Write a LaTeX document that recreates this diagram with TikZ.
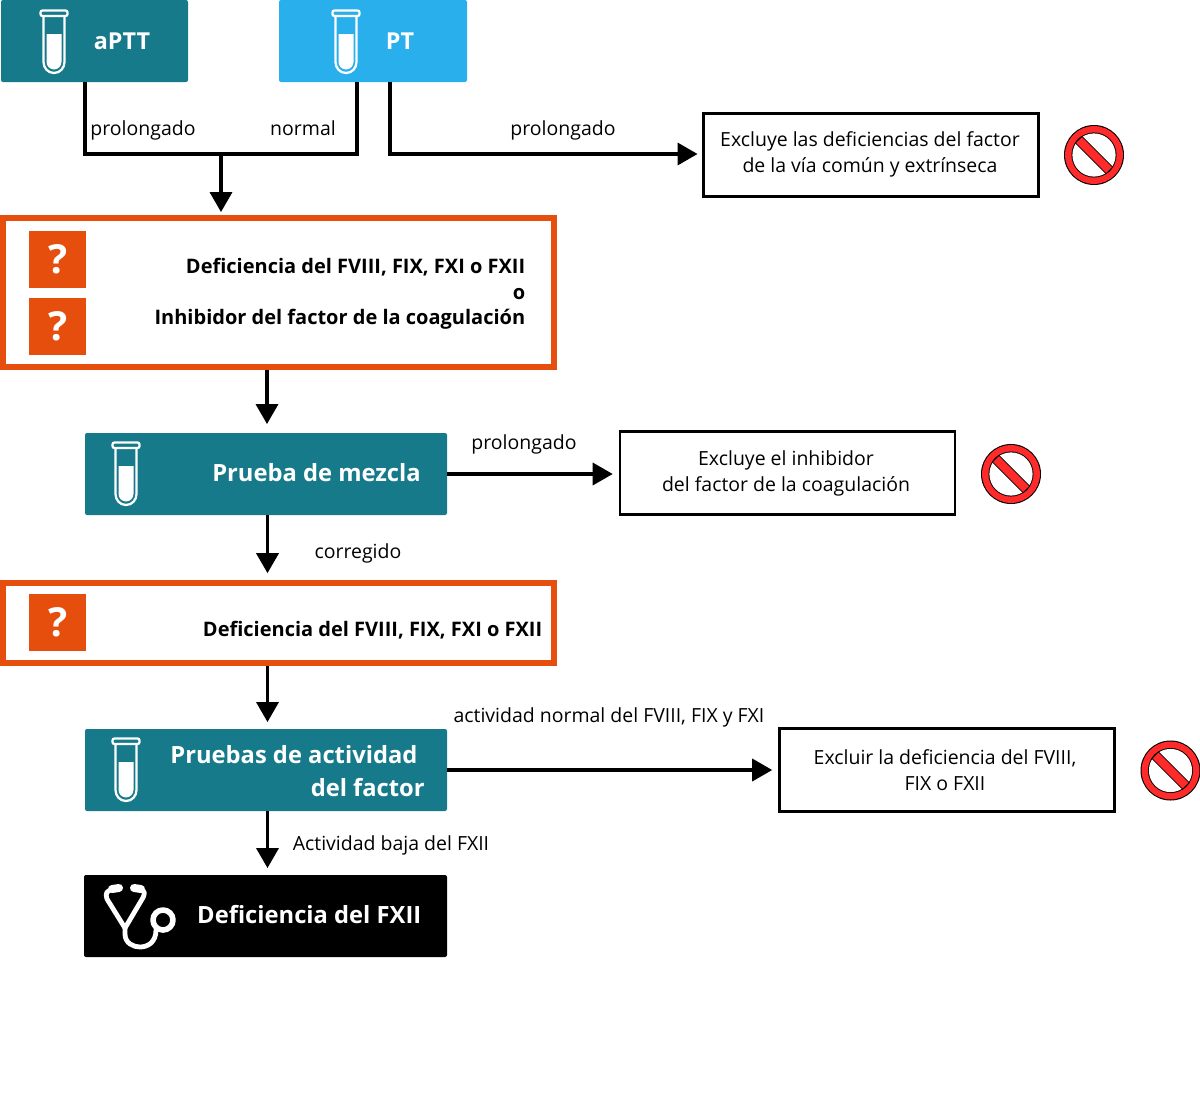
\documentclass[tikz,border=0pt]{standalone}
\usepackage{fontspec}
\setmainfont{Open Sans}
\usetikzlibrary{arrows.meta,calc}
\definecolor{teal1}{HTML}{167A8B}
\definecolor{sky1}{HTML}{29B0EC}
\definecolor{org1}{HTML}{E64E0E}
\definecolor{red1}{HTML}{FF2A2A}
\def\uu{0.75pt}
\tikzset{
  x=0.75pt,y=-0.75pt,
  body/.style={font=\fontsize{14.6}{19.5}\selectfont,inner sep=0pt,align=center,text=black},
  lab/.style={body,anchor=base},
  boldtxt/.style={font=\fontsize{15}{19.2}\selectfont\bfseries,inner sep=0pt,align=right,text=black},
  headtxt/.style={font=\fontsize{17.8}{24.75}\selectfont\bfseries,inner sep=0pt,align=right,text=white},
  filled/.style={rounded corners=1.5pt,inner sep=0pt,draw=none},
  outbox/.style={draw=black,line width=1.9pt,fill=white,inner sep=0pt},
  warnbox/.style={draw=org1,line width=3.9pt,fill=white,inner sep=0pt},
  qbox/.style={fill=org1,text=white,inner sep=0pt,minimum size=57*\uu,font=\fontsize{30}{30}\selectfont\bfseries},
  conn/.style={line width=2.6pt,draw=black},
  arr/.style={conn,-{Triangle[length=15pt,width=16.5pt]}},
  tube/.pic={
    \draw[white,line width=1.7pt,rounded corners=1.5pt] (-13.5,0.5) rectangle (13.5,6);
    \draw[white,line width=1.7pt] (-10.5,6) -- (-10.5,52) .. controls (-10.5,58) and (-6,63) .. (0,63) .. controls (6,63) and (10.5,58) .. (10.5,52) -- (10.5,6);
    \fill[white] (-7.5,24) -- (-7.5,52) .. controls (-7.5,56) and (-4,59.5) .. (0,59.5) .. controls (4,59.5) and (7.5,56) .. (7.5,52) -- (7.5,24) -- cycle;
  },
  nosign/.pic={
    \fill[black] (0,0) circle[radius=22.5pt];
    \fill[red1] (0,0) circle[radius=21.7pt];
    \fill[black] (0,0) circle[radius=16.9pt];
    \fill[white] (0,0) circle[radius=16.2pt];
    \begin{scope}
      \clip (0,0) circle[radius=16.9pt];
      \draw[black,line width=7.6pt] (-20,-20) -- (20,20);
    \end{scope}
    \draw[red1,line width=6.3pt] (-15,-15) -- (15,15);
  },
}
\begin{document}
\begin{tikzpicture}
\useasboundingbox (0,0) rectangle (1200,1093);

% top test boxes
\node[filled,fill=teal1,minimum width=187*\uu,minimum height=82*\uu] (aptt) at (94.5,41) {};
\node[filled,fill=sky1,minimum width=188*\uu,minimum height=82*\uu] (pt) at (373,41) {};
\pic at (54,10) {tube};
\pic at (346,10) {tube};
\node[headtxt,font=\fontsize{17.5}{24}\selectfont\bfseries] (apttt) at (122,41) {aPTT};
\node[headtxt,font=\fontsize{17.5}{24}\selectfont\bfseries] (ptt) at (400,41) {PT};

% warning box 1
\node[warnbox,minimum width=551*\uu,minimum height=149*\uu] (w1) at (278.5,292.5) {};
\node[qbox] (q1) at (57.5,259.5) {\hspace*{1.5pt}?};
\node[qbox] (q2) at (57.5,326.5) {\hspace*{1.5pt}?};
\node[boldtxt,anchor=east] (w1t) at (525.5,294) {Deficiencia del FVIII, FIX, FXI o FXII\\o\\Inhibidor del factor de la coagulación};

% mixing
\node[filled,fill=teal1,minimum width=362*\uu,minimum height=82*\uu] (mix) at (266,474) {};
\pic at (126,442) {tube};
\node[headtxt,anchor=east] (mixt) at (421,473) {Prueba de mezcla};

% warning box 2
\node[warnbox,minimum width=551*\uu,minimum height=80*\uu] (w2) at (278.5,623) {};
\node[qbox] (q3) at (57.5,622.5) {\hspace*{1.5pt}?};
\node[boldtxt,anchor=east] (w2t) at (542.5,630) {Deficiencia del FVIII, FIX, FXI o FXII};

% activity
\node[filled,fill=teal1,minimum width=362*\uu,minimum height=82*\uu] (act) at (266,770) {};
\pic at (126,738) {tube};
\node[headtxt,anchor=east] (actt) at (425,771) {Pruebas de actividad\hspace*{5.5pt}\\del factor};

% diagnosis
\node[filled,fill=black,minimum width=363*\uu,minimum height=82*\uu] (dx) at (265.5,916) {};
\node[headtxt,anchor=east] (dxt) at (421.5,915) {Deficiencia del FXII};
\begin{scope}[white,line cap=round,line join=round,line width=3.6pt]
  \draw (120,888) -- (111,890) .. controls (107,891) and (105,893) .. (107,899) -- (125,928) -- (141,901) .. controls (146,893) and (145,891) .. (141,890) -- (133,888);
  \draw[line width=6pt] (112,889) -- (119,888);
  \draw[line width=6pt] (141,889) -- (134,888);
  \draw (125,928) -- (125,934) .. controls (125,943) and (133,947) .. (140,947) .. controls (148,947) and (156,942) .. (156,930);
  \draw[line width=4.2pt] (163,920) circle[radius=7.5pt];
\end{scope}

% exclusion boxes
\node[outbox,minimum width=335*\uu,minimum height=83*\uu] (x1) at (871,155) {};
\node[body] (x1t) at (870,154) {Excluye las deficiencias del factor\\de la vía común y extrínseca};
\node[outbox,minimum width=335*\uu,minimum height=83*\uu] (x2) at (787.5,473) {};
\node[body] (x2t) at (786,473) {Excluye el inhibidor\\del factor de la coagulación};
\node[outbox,minimum width=335*\uu,minimum height=83*\uu] (x3) at (947,770) {};
\node[body] (x3t) at (945,770) {Excluir la deficiencia del FVIII,\\FIX o FXII};
\pic at (1094,155) {nosign};
\pic at (1011,474) {nosign};
\pic at (1170.5,770.5) {nosign};

% connectors
\coordinate (j1) at (221,154);
\draw[conn,line join=miter] ($(aptt.south)+(-9.5,0)$) |- (j1) -| ($(pt.south)+(-16,0)$);
\draw[arr,shorten >=2.5pt] (j1) -- (j1 |- w1.north);
\draw[arr,shorten >=3.5pt,line join=miter] ($(pt.south)+(17,0)$) |- (j1 -| x1.west);
\draw[arr,shorten >=6.5pt] (mix.north |- w1.south) ++(1,0) -- ($(mix.north)+(1,0)$);
\draw[arr,shorten >=4.5pt] (mix.east) -- (mix.east -| x2.west);
\draw[arr,shorten >=5.4pt] ($(mix.south)+(1.5,0)$) -- ($(mix.south |- w2.north)+(1.5,0)$);
\draw[arr,shorten >=5pt] ($(act.north |- w2.south)+(1.5,0)$) -- ($(act.north)+(1.5,0)$);
\draw[arr,shorten >=4.5pt] (act.east) -- (x3.west);
\draw[arr,shorten >=5pt] ($(act.south)+(1.5,0)$) -- ($(act.south |- dx.north)+(1.5,0)$);

% labels
\node[lab] (l1) at (143,135.5) {prolongado};
\node[lab] (l2) at (303,135.5) {normal};
\node[lab] (l3) at (563,135.5) {prolongado};
\node[lab] (l4) at (524,449) {prolongado};
\node[lab] (l5) at (358,558) {corregido};
\node[lab] (l6) at (609,722) {actividad normal del FVIII, FIX y FXI};
\node[lab] (l7) at (391,850) {Actividad baja del FXII};
\end{tikzpicture}
\end{document}
